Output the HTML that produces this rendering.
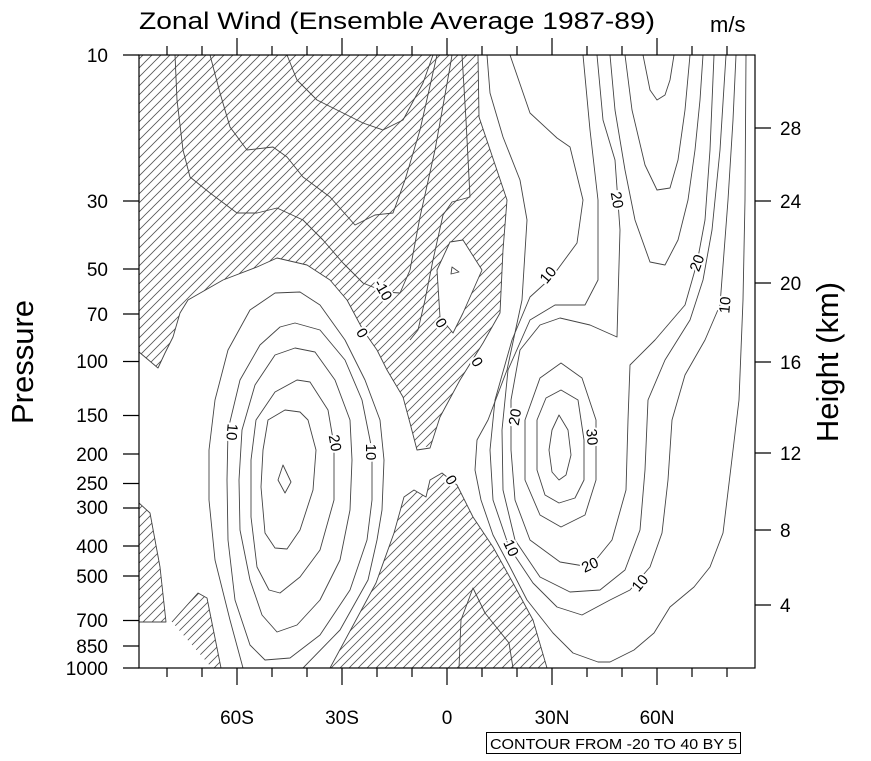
<!DOCTYPE html>
<html><head><meta charset="utf-8"><style>
html,body{margin:0;padding:0;background:#fff;}
svg{display:block;}
text{font-family:"Liberation Sans",sans-serif;fill:#000;}
</style></head><body>
<svg width="871" height="761" viewBox="0 0 871 761" xmlns="http://www.w3.org/2000/svg">
<defs>
<pattern id="h" patternUnits="userSpaceOnUse" width="9" height="9">
<path d="M-1,10 L10,-1 M-2,2 L2,-2 M7,11 L11,7" stroke="#555" stroke-width="0.8"/>
</pattern>
<clipPath id="pc"><rect x="139" y="55" width="616" height="613"/></clipPath>
</defs>
<g clip-path="url(#pc)">
<!-- hatched negative regions -->
<path fill="url(#h)" fill-rule="evenodd" d="M139,55 L478,55 L479,117 L507,200 L503,250 L500,313 L483,343 L460,380 L440,417 L430,448 L420,445 L417,450 L410,423 L403,397 L387,370 L377,350 L363,330 L347,300 L330,280 L307,265 L277,258 L257,267 L223,280 L188,300 L180,313 L173,337 L165,353 L158,368 L139,352 Z M437,270 L450,242 L463,240 L482,270 L463,313 L453,333 L440,317 Z"/>
<path fill="url(#h)" d="M330,668 L376,583 L394,533 L404,497 L414,490 L426,497 L430,480 L442,473 L457,485 L473,517 L493,547 L513,583 L533,620 L547,668 Z"/>
<path fill="url(#h)" d="M139,503 L150,513 L160,567 L166,622 L139,622 Z"/>
<path fill="url(#h)" d="M172,622 L198,593 L207,598 L221,668 L212,668 Z"/>
<g fill="none" stroke="#444" stroke-width="0.9" stroke-linejoin="round">
<!-- zero contours -->
<polyline points="139,352 158,368 165,353 173,337 180,313 188,300 223,280 257,267 277,258 307,265 330,280 347,300 363,330 377,350 387,370 403,397 410,423 417,450 430,448 440,417 460,380 483,343 500,313 503,250 507,200 479,117 478,55"/>
<polygon points="437,270 450,242 463,240 482,270 463,313 453,333 440,317"/>
<polygon points="452,267 459,272 451,274"/>
<polyline points="330,668 376,583 394,533 404,497 414,490 426,497 430,480 442,473 457,485 473,517 493,547 513,583 533,620 547,668"/>
<polyline points="139,503 150,513 160,567 166,622 139,622"/>
<polyline points="172,622 198,593 207,598 221,668"/>
<!-- negative contours -->
<polyline points="175,55 177,100 183,150 190,177 210,193 237,213 257,213 277,208 303,220 323,240 343,263 363,283 385,292 400,293 410,270 420,217 435,150 450,67 452,55"/>
<polyline points="210,55 220,93 230,127 247,150 273,147 287,157 303,177 330,197 355,225 375,215 393,213 405,180 420,130 437,55"/>
<polyline points="287,55 297,80 317,100 363,123 383,130 403,120 423,83 433,55"/>
<polyline points="462,55 466,120 470,197 452,202 443,215 433,260 425,300 418,330 410,340"/>
<polyline points="459,668 461,620 473,588 485,613 509,643 513,668"/>
<!-- southern jet -->
<polyline points="243,668 230,620 215,560 209,500 209,450 215,400 228,350 250,310 275,293 300,292 320,305 345,340 365,380 380,420 384,460 382,510 377,540 368,580 340,630 303,668"/>
<polygon points="295,323 320,330 345,360 362,400 372,450 372,500 367,540 350,590 320,635 290,658 265,660 250,645 235,600 228,540 227,480 228,430 240,380 260,345 280,327"/>
<polygon points="295,348 315,352 335,380 350,420 352,460 350,510 340,560 320,600 297,625 277,632 262,615 250,580 240,530 239,480 242,430 255,385 275,355"/>
<polygon points="297,380 310,382 328,410 334,445 334,500 320,550 300,577 280,593 269,590 257,567 251,517 251,460 256,420 275,392"/>
<polygon points="263,450 268,420 285,410 300,412 308,420 316,450 313,490 300,530 287,549 275,548 265,533 261,487"/>
<polygon points="283,465 291,482 285,493 278,480"/>
<!-- northern jet -->
<polyline points="487,55 490,93 503,137 520,180 527,220 522,300 507,370 488,420 477,440 475,470 481,500 493,535 509,565 527,600 553,633 573,653 598,662 610,662 634,650 654,633 670,607 694,587 710,567 723,533 731,467 739,400 743,300 745,200 746,55"/>
<polyline points="510,55 530,113 557,138 570,147 583,200 577,243 552,277 530,297 512,340 495,400 490,450 493,500 509,547 533,583 557,607 582,615 610,600 630,590 650,567 662,533 668,480 672,420 685,375 705,340 720,305 728,200 733,120 736,55"/>
<polyline points="583,55 590,130 598,200 598,280 585,305 555,305 530,320 508,370 502,430 503,490 515,540 540,577 570,592 600,590 625,570 640,530 645,470 648,400 665,360 690,320 703,280 712,230 720,150 726,55"/>
<polyline points="597,55 603,120 615,160 620,230 618,300 617,337 590,325 560,318 540,325 520,350 511,400 511,450 515,500 530,540 560,562 590,567 612,540 626,490 628,420 630,365 655,340 685,305 697,263 705,220 710,150 714,55"/>
<polyline points="610,55 615,110 625,170 635,220 650,262 665,265 678,240 688,200 695,150 700,100 703,55"/>
<polyline points="625,55 632,110 645,165 657,190 670,188 678,160 685,110 690,55"/>
<polyline points="643,55 650,90 657,100 665,95 670,80 674,55"/>
<polygon points="561,363 582,378 596,420 596,480 585,515 561,527 540,515 525,480 525,420 540,378"/>
<polygon points="561,390 578,400 584,440 584,480 575,498 559,503 545,495 537,470 537,420 546,398"/>
<polygon points="559,415 568,430 571,455 566,475 559,480 552,472 549,450 552,430"/>
</g>
</g>
<!-- contour labels -->
<g font-size="15" text-anchor="middle">
<text transform="translate(383,290) rotate(60)" dy="5" fill="#000" stroke="#fff" stroke-width="4" paint-order="stroke">-10</text>
<text transform="translate(362,333) rotate(60)" dy="5" stroke="#fff" stroke-width="4" paint-order="stroke">0</text>
<text transform="translate(441,323) rotate(60)" dy="5" stroke="#fff" stroke-width="4" paint-order="stroke">0</text>
<text transform="translate(477,362) rotate(60)" dy="5" stroke="#fff" stroke-width="4" paint-order="stroke">0</text>
<text transform="translate(451,480) rotate(60)" dy="5" stroke="#fff" stroke-width="4" paint-order="stroke">0</text>
<text transform="translate(232,432) rotate(95)" dy="5" stroke="#fff" stroke-width="4" paint-order="stroke">10</text>
<text transform="translate(335,443) rotate(80)" dy="5" stroke="#fff" stroke-width="4" paint-order="stroke">20</text>
<text transform="translate(371,452) rotate(90)" dy="5" stroke="#fff" stroke-width="4" paint-order="stroke">10</text>
<text transform="translate(548,275) rotate(-50)" dy="5" stroke="#fff" stroke-width="4" paint-order="stroke">10</text>
<text transform="translate(617,200) rotate(80)" dy="5" stroke="#fff" stroke-width="4" paint-order="stroke">20</text>
<text transform="translate(697,263) rotate(-70)" dy="5" stroke="#fff" stroke-width="4" paint-order="stroke">20</text>
<text transform="translate(725,305) rotate(-85)" dy="5" stroke="#fff" stroke-width="4" paint-order="stroke">10</text>
<text transform="translate(515,417) rotate(-80)" dy="5" stroke="#fff" stroke-width="4" paint-order="stroke">20</text>
<text transform="translate(592,437) rotate(85)" dy="5" stroke="#fff" stroke-width="4" paint-order="stroke">30</text>
<text transform="translate(511,548) rotate(65)" dy="5" stroke="#fff" stroke-width="4" paint-order="stroke">10</text>
<text transform="translate(590,565) rotate(-25)" dy="5" stroke="#fff" stroke-width="4" paint-order="stroke">20</text>
<text transform="translate(640,583) rotate(-50)" dy="5" stroke="#fff" stroke-width="4" paint-order="stroke">10</text>
</g>
<!-- frame -->
<rect x="139" y="55" width="616" height="613" fill="none" stroke="#000" stroke-width="1.2"/>
<g stroke="#000" stroke-width="1.2">
<!-- left ticks -->
<path d="M123,55H139M123,201H139M123,269H139M123,314H139M123,361.5H139M123,415.5H139M123,454H139M123,483.5H139M123,508H139M123,546H139M123,576H139M123,620.5H139M123,646H139M123,668H139"/>
<!-- right ticks -->
<path d="M755,128H771M755,201H771M755,283H771M755,362H771M755,453H771M755,530H771M755,605H771"/>
<!-- top/bottom major -->
<path d="M237,38V55M342,38V55M447,38V55M552,38V55M657,38V55M237,668V685M342,668V685M447,668V685M552,668V685M657,668V685"/>
<path d="M167,46V55M202,46V55M272,46V55M307,46V55M377,46V55M412,46V55M482,46V55M517,46V55M587,46V55M622,46V55M692,46V55M727,46V55M167,668V677M202,668V677M272,668V677M307,668V677M377,668V677M412,668V677M482,668V677M517,668V677M587,668V677M622,668V677M692,668V677M727,668V677"/>
</g>
<g font-size="19" text-anchor="end">
<text x="108" y="62">10</text><text x="108" y="208">30</text><text x="108" y="276">50</text><text x="108" y="321">70</text><text x="108" y="368">100</text><text x="108" y="422">150</text><text x="108" y="461">200</text><text x="108" y="490">250</text><text x="108" y="514">300</text><text x="108" y="553">400</text><text x="108" y="583">500</text><text x="108" y="627">700</text><text x="108" y="653">850</text><text x="108" y="675">1000</text>
</g>
<g font-size="19">
<text x="780" y="135">28</text><text x="780" y="208">24</text><text x="780" y="290">20</text><text x="780" y="369">16</text><text x="780" y="460">12</text><text x="780" y="537">8</text><text x="780" y="612">4</text>
</g>
<g font-size="19" text-anchor="middle">
<text x="237" y="724">60S</text><text x="342" y="724">30S</text><text x="447" y="724">0</text><text x="552" y="724">30N</text><text x="657" y="724">60N</text>
</g>
<text x="139" y="29" font-size="24" textLength="516" lengthAdjust="spacingAndGlyphs">Zonal Wind (Ensemble Average 1987-89)</text>
<text x="710" y="32" font-size="22">m/s</text>
<text transform="translate(33,362) rotate(-90)" font-size="31" text-anchor="middle">Pressure</text>
<text transform="translate(838,362) rotate(-90)" font-size="31" text-anchor="middle">Height (km)</text>
<rect x="486.5" y="732.5" width="254" height="21" fill="none" stroke="#000" stroke-width="1"/>
<text x="490" y="749" font-size="15" textLength="247" lengthAdjust="spacingAndGlyphs">CONTOUR FROM -20 TO 40 BY 5</text>
</svg>
</body></html>
